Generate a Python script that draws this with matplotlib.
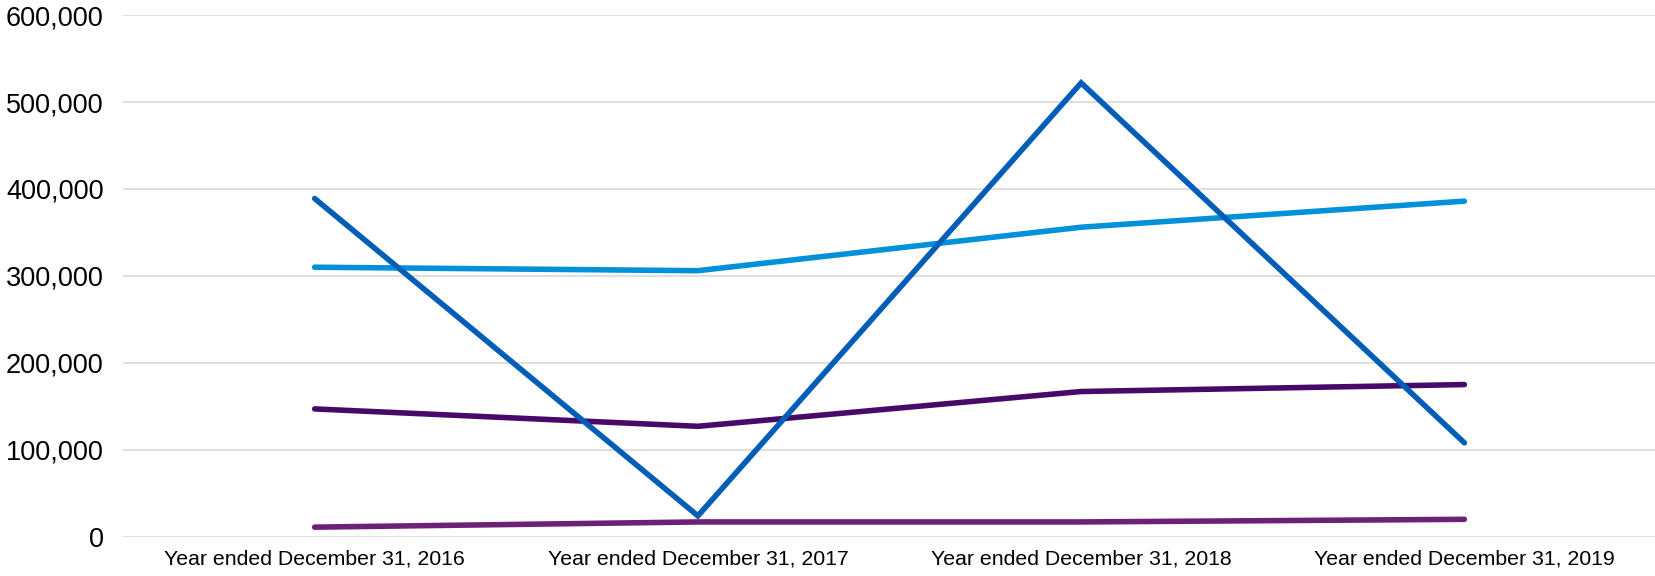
import matplotlib.pyplot as plt
from matplotlib.ticker import FuncFormatter

plt.rcParams['font.family'] = ['Liberation Sans', 'DejaVu Sans']

categories = ['Year ended December 31, 2016', 'Year ended December 31, 2017',
              'Year ended December 31, 2018', 'Year ended December 31, 2019']

# four unnamed series
purple = [11000, 17000, 17000, 20000]
dark_purple = [147000, 127000, 167000, 175000]
light_blue = [310000, 306000, 356000, 386000]
blue = [389000, 24000, 522000, 108000]

series = [
    (purple, '#6D2077'),
    (dark_purple, '#470A68'),
    (light_blue, '#0091DA'),
    (blue, '#005EB8'),
]

fig = plt.figure(figsize=(16.56, 5.76), dpi=100)
ax = fig.add_axes([0.0743, 0.0682, 0.9257, 0.9056])

x = range(len(categories))
for i, (vals, color) in enumerate(series):
    ax.plot(x, vals, color=color, linewidth=4.0, solid_capstyle='round',
            solid_joinstyle='miter', zorder=3 + i)

ax.set_xlim(-0.5, len(categories) - 0.5)
ax.set_ylim(0, 600000)
ax.set_yticks(range(0, 600001, 100000))
ax.yaxis.set_major_formatter(FuncFormatter(lambda v, p: f'{int(v):,}'))
ax.set_xticks(list(x))
ax.set_xticklabels(categories)

ax.grid(axis='y', color='#D9D9D9', linewidth=1.2)
ax.set_axisbelow(True)
for s in ax.spines.values():
    s.set_visible(False)
ax.tick_params(axis='y', length=0, pad=14, labelsize=19.5, labelcolor='#000000')
ax.tick_params(axis='x', length=0, pad=9, labelsize=15.3, labelcolor='#000000')

fig.savefig('out.png', dpi=100)
